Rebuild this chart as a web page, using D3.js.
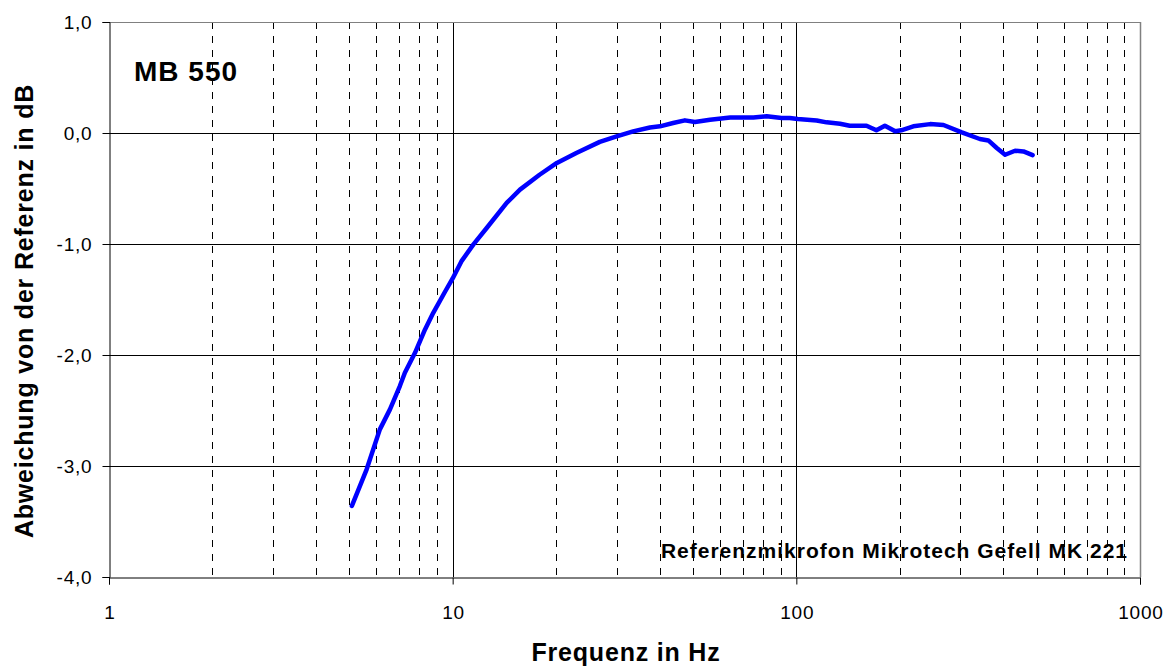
<!DOCTYPE html>
<html><head><meta charset="utf-8">
<script src="https://cdn.jsdelivr.net/npm/d3@7"></script>
<style>html,body{margin:0;padding:0;background:#fff;} svg{display:block;font-family:"Liberation Sans",Arial,sans-serif;}</style>
</head><body>
<svg id="c" width="1175" height="666"></svg>
<script>
const freq = [5.09,5.62,6.14,6.57,7.02,7.26,7.77,8.31,8.78,9.5,10.0,10.6,11.48,12.56,14.36,15.7,17.9,20.1,22.9,26.8,30,33.5,37.5,40.1,43.8,47.4,50.7,56.1,64.2,75,82,90.6,95.7,101,114.6,122.5,134,143,160,171,181,194,202,219,245,268,303,342,362,383,405,433,458,487];
const dev = [-3.36,-3.03,-2.67,-2.49,-2.28,-2.16,-1.98,-1.77,-1.62,-1.43,-1.31,-1.157,-1.006,-0.856,-0.63,-0.51,-0.376,-0.27,-0.18,-0.08,-0.03,0.015,0.05,0.06,0.09,0.114,0.099,0.12,0.14,0.14,0.15,0.135,0.135,0.126,0.113,0.096,0.084,0.066,0.066,0.024,0.066,0.015,0.024,0.06,0.08,0.072,0.005,-0.054,-0.067,-0.135,-0.196,-0.16,-0.166,-0.20];
const xTicks = [1,10,100,1000];
const yTicks = [1,0,-1,-2,-3,-4];
const title = "MB 550";
const note = "Referenzmikrofon Mikrotech Gefell MK 221";
const xTitle = "Frequenz in Hz";
const yTitle = "Abweichung von der Referenz in dB";

const svg = d3.select("#c");
const L=109, R=1140, T=22, B=577;
const x = d3.scaleLog().domain([1,1000]).range([L,R]);
const y = d3.scaleLinear().domain([-4,1]).range([B,T]);

// minor grid
const minor = [];
for (let d=1; d<1000; d*=10) for (let k=2;k<=9;k++) minor.push(d*k);
svg.append("g").selectAll("line").data(minor).join("line")
  .attr("x1",d=>Math.round(x(d))+0.5).attr("x2",d=>Math.round(x(d))+0.5)
  .attr("y1",T).attr("y2",B)
  .attr("stroke","#000").attr("stroke-width",1).attr("stroke-dasharray","7,7");
// major grids
svg.append("g").selectAll("line").data(xTicks.slice(1,-1)).join("line")
  .attr("x1",d=>Math.round(x(d))+0.5).attr("x2",d=>Math.round(x(d))+0.5)
  .attr("y1",T).attr("y2",B).attr("stroke","#000").attr("stroke-width",1);
svg.append("g").selectAll("line").data(yTicks.slice(1,-1)).join("line")
  .attr("y1",d=>Math.round(y(d))+0.5).attr("y2",d=>Math.round(y(d))+0.5)
  .attr("x1",L).attr("x2",R).attr("stroke","#000").attr("stroke-width",1);
// border top/right
svg.append("line").attr("x1",L).attr("x2",R).attr("y1",T+0.5).attr("y2",T+0.5).attr("stroke","#808080");
svg.append("line").attr("x1",R+0.5).attr("x2",R+0.5).attr("y1",T).attr("y2",B).attr("stroke","#808080").attr("stroke-width",1.5);

// axes
const yAxis = svg.append("g").attr("transform",`translate(${L+0.5},0)`)
  .call(d3.axisLeft(y).tickValues(yTicks).tickSize(7).tickPadding(10).tickFormat(d=>d3.format(".1f")(d).replace(".",",").replace("−","-")));
const xAxis = svg.append("g").attr("transform",`translate(0,${B+0.5})`)
  .call(d3.axisBottom(x).tickValues(xTicks).tickSize(7).tickPadding(21).tickFormat(d3.format("d")));
[yAxis,xAxis].forEach(a=>{
  a.select(".domain").attr("stroke","#000").attr("stroke-width",1);
  a.selectAll(".tick line").attr("stroke","#000");
  a.selectAll("text").attr("font-size",19).attr("letter-spacing","0.8px").attr("fill","#000").attr("font-family","Liberation Sans, Arial, sans-serif");
});
yAxis.selectAll("text").attr("dy","0.35em");
xAxis.selectAll("text").attr("dx","0.4px");

// line
const line = d3.line().x((d,i)=>x(freq[i])).y(d=>y(d));
svg.append("path").datum(dev).attr("d",line).attr("fill","none")
  .attr("stroke","#0000ff").attr("stroke-width",4.5).attr("stroke-linejoin","round").attr("stroke-linecap","round");

// texts
svg.append("text").attr("x",134).attr("y",81).attr("font-size",28).attr("letter-spacing","1px").attr("font-weight","bold").text(title);
svg.append("text").attr("x",1128).attr("y",558).attr("text-anchor","end").attr("font-size",21).attr("letter-spacing","1px").attr("font-weight","bold").text(note);
svg.append("text").attr("x",626).attr("y",661).attr("text-anchor","middle").attr("font-size",25).attr("letter-spacing","0.8px").attr("font-weight","bold").text(xTitle);
svg.append("text").attr("transform","translate(33,311) rotate(-90)").attr("text-anchor","middle").attr("font-size",25).attr("letter-spacing","0.8px").attr("font-weight","bold").text(yTitle);
</script>
</body></html>
